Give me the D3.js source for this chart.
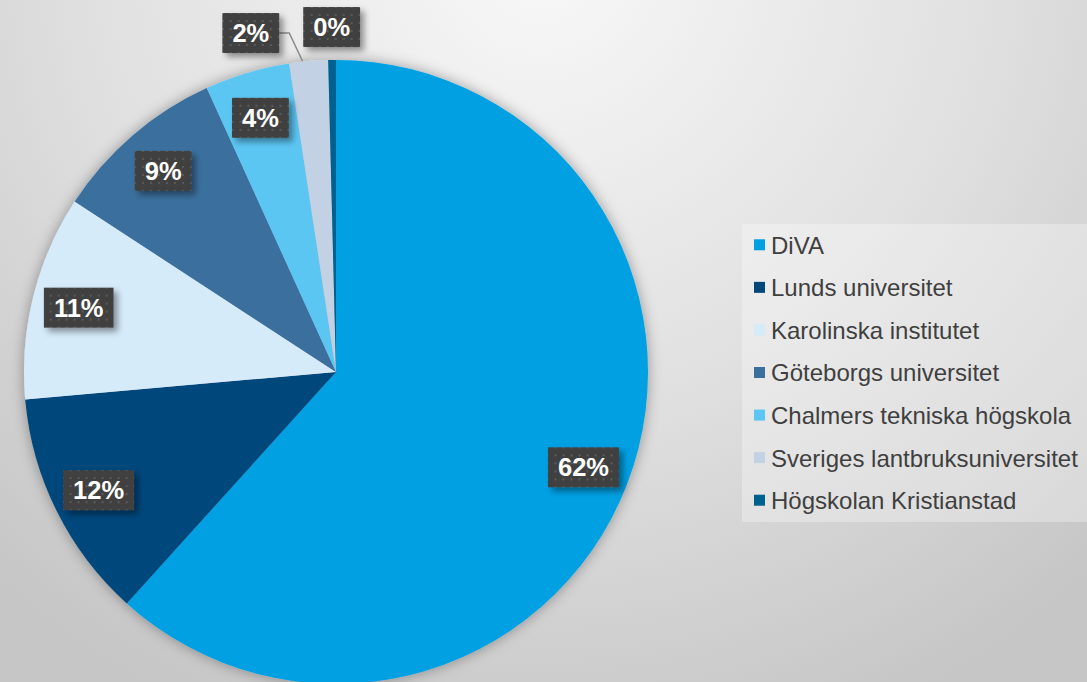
<!DOCTYPE html>
<html lang="sv">
	<head>
		<meta charset="UTF-8" />
		<title>Andel per arkiv</title>
		<script src="https://d3js.org/d3.v7.min.js"></script>
		<style>
			html, body {
				margin: 0;
				padding: 0;
				overflow: hidden;
			}
			svg {
				display: block;
				font-family: "Liberation Sans", Arial, sans-serif;
			}
		</style>
	</head>
	<body>
		<svg id="svg" width="1087" height="682"></svg>
		<script>
			const categories = [
				"DiVA",
				"Lunds universitet",
				"Karolinska institutet",
				"Göteborgs universitet",
				"Chalmers tekniska högskola",
				"Sveriges lantbruksuniversitet",
				"Högskolan Kristianstad",
			];
			const shares = [61.7, 11.9, 10.6, 9.0, 4.4, 2.0, 0.4];
			const colors = [
				"#00a0e3",
				"#00477c",
				"#d5ebfa",
				"#3b6f9e",
				"#5bc6f3",
				"#c3d1e4",
				"#00618f",
			];

			const width = 1087,
				height = 682;
			const cx = 336,
				cy = 372,
				radius = 312;

			const svg = d3.select("svg");
			const defs = svg.append("defs");

			// background
			const bg = defs
				.append("radialGradient")
				.attr("id", "bg")
				.attr("gradientUnits", "userSpaceOnUse")
				.attr("cx", 540)
				.attr("cy", -40)
				.attr("r", 820);
			bg.append("stop").attr("offset", "0").attr("stop-color", "#f8f8f8");
			bg.append("stop").attr("offset", "0.55").attr("stop-color", "#e0e0e0");
			bg.append("stop").attr("offset", "1").attr("stop-color", "#c6c6c6");
			svg.append("rect")
				.attr("width", width)
				.attr("height", height)
				.attr("fill", "url(#bg)");

			const pieShadow = defs.append("filter").attr("id", "pieShadow")
				.attr("x", "-20%").attr("y", "-20%").attr("width", "140%").attr("height", "140%");
			pieShadow.append("feDropShadow")
				.attr("dx", 0).attr("dy", 0)
				.attr("stdDeviation", 7)
				.attr("flood-color", "#000")
				.attr("flood-opacity", 0.35);

			const boxShadow = defs.append("filter").attr("id", "boxShadow")
				.attr("x", "-30%").attr("y", "-30%").attr("width", "160%").attr("height", "160%");
			boxShadow.append("feDropShadow")
				.attr("dx", 4).attr("dy", 4)
				.attr("stdDeviation", 3)
				.attr("flood-color", "#000")
				.attr("flood-opacity", 0.4);

			const dots = defs.append("pattern")
				.attr("id", "dots")
				.attr("patternUnits", "userSpaceOnUse")
				.attr("width", 8)
				.attr("height", 8);
			dots.append("rect").attr("width", 8).attr("height", 8).attr("fill", "#404040");
			dots.append("rect").attr("x", 3).attr("y", 3).attr("width", 2).attr("height", 2).attr("fill", "#5a5a5a");

			// pie
			const pie = d3.pie().sort(null).value((d) => d);
			const arcs = pie(shares);
			const arc = d3.arc().innerRadius(0).outerRadius(radius);
			const labelArc = d3.arc().innerRadius(radius * 0.85).outerRadius(radius * 0.85);
			const outerArc = d3.arc().innerRadius(radius + 33).outerRadius(radius + 33);

			const g = svg.append("g").attr("transform", `translate(${cx},${cy})`);
			g.append("g")
				.attr("filter", "url(#pieShadow)")
				.selectAll("path")
				.data(arcs)
				.enter()
				.append("path")
				.attr("d", arc)
				.attr("fill", (d, i) => colors[i]);

			// labels
			const fmt = (v) => Math.round(v) + "%";
			const boxH = 40,
				padX = 10;
			const labels = arcs.map((d, i) => {
				const outside = d.data < 3;
				const [x, y] = outside ? outerArc.centroid(d) : labelArc.centroid(d);
				return { i, text: fmt(d.data), x, y, outside, d };
			});

			const lg = g.append("g");
			const items = lg.selectAll(".label")
				.data(labels)
				.enter()
				.append("g")
				.classed("label", true);

			items.append("text")
				.text((l) => l.text)
				.attr("text-anchor", "middle")
				.attr("dy", "0.36em")
				.attr("font-size", 25.5)
				.attr("font-weight", "bold")
				.attr("fill", "#fff");

			items.each(function (l) {
				l.w = this.querySelector("text").getComputedTextLength() + padX * 2;
			});

			// push overlapping outside labels to the left
			const outs = labels.filter((l) => l.outside).reverse();
			for (let k = 1; k < outs.length; k++) {
				const prev = outs[k - 1],
					cur = outs[k];
				const limit = prev.x - prev.w / 2 - 24;
				if (cur.x + cur.w / 2 > limit) cur.x = limit - cur.w / 2;
				cur.y = prev.y + 6;
			}

			items.attr("transform", (l) => `translate(${l.x},${l.y})`);
			items.insert("rect", "text")
				.attr("x", (l) => -l.w / 2)
				.attr("y", -boxH / 2)
				.attr("width", (l) => l.w)
				.attr("height", boxH)
				.attr("fill", "url(#dots)")
				.attr("filter", "url(#boxShadow)");

			// leader lines for moved labels
			lg.selectAll(".leader")
				.data(labels.filter((l) => l.outside && Math.abs(l.x - outerArc.centroid(l.d)[0]) > 20))
				.enter()
				.insert("polyline", ":first-child")
				.classed("leader", true)
				.attr("points", (l) => {
					const edge = d3.arc().innerRadius(radius).outerRadius(radius).centroid(l.d);
					const sx = l.x + l.w / 2;
					return `${sx},${l.y} ${sx + 10},${l.y} ${edge[0] - 6},${edge[1]}`;
				})
				.attr("fill", "none")
				.attr("stroke", "#8a8a8a")
				.attr("stroke-width", 1.5);

			// legend
			const legX = 742,
				legY = 224,
				legH = 298;
			const leg = svg.append("g");
			leg.append("rect")
				.attr("x", legX)
				.attr("y", legY)
				.attr("width", width - legX)
				.attr("height", legH)
				.attr("fill", "#ffffff")
				.attr("fill-opacity", 0.3);

			const rowScale = d3.scaleBand()
				.domain(categories)
				.range([legY, legY + legH])
				.padding(0);

			const rows = leg.selectAll(".row")
				.data(categories)
				.enter()
				.append("g")
				.classed("row", true)
				.attr("transform", (c) => `translate(${legX + 12},${rowScale(c) + rowScale.bandwidth() / 2})`);
			rows.append("rect")
				.attr("x", 0)
				.attr("y", -6)
				.attr("width", 11)
				.attr("height", 11)
				.attr("fill", (c, i) => colors[i]);
			rows.append("text")
				.text((c) => c)
				.attr("x", 17)
				.attr("dy", "0.35em")
				.attr("font-size", 24)
				.attr("fill", "#3f3f3f");
		</script>
	</body>
</html>
